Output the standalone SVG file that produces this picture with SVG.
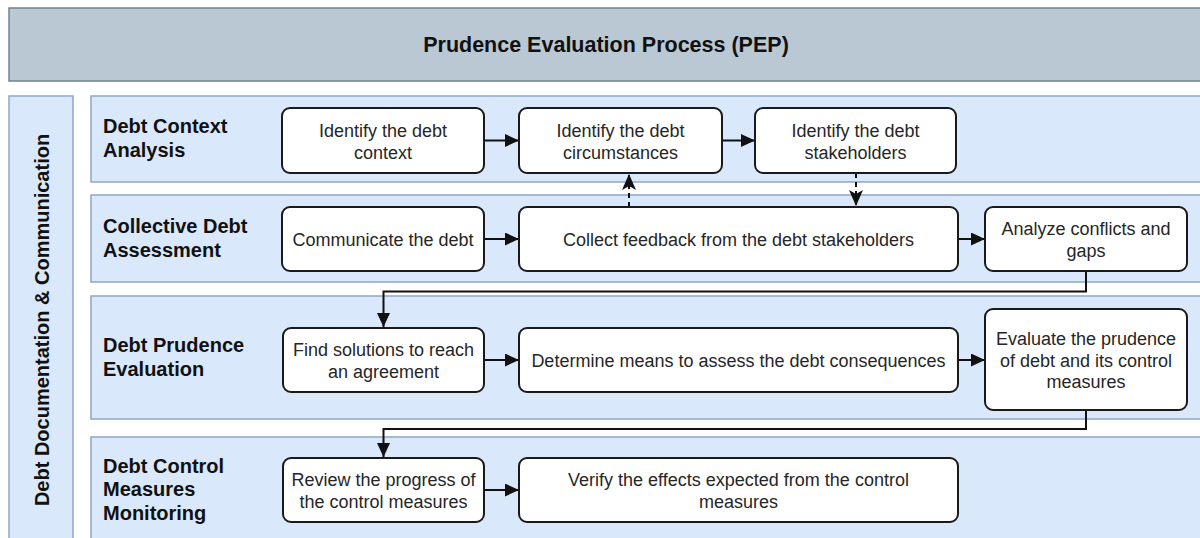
<svg xmlns="http://www.w3.org/2000/svg" width="1200" height="538" viewBox="0 0 1200 538">
  <style>
    .title { font-family: "Liberation Sans", Arial, sans-serif; font-weight: bold; font-size: 21.5px; fill: #111; text-anchor: middle; }
    .lane { fill: #dae8fc; stroke: #8ea7c8; stroke-width: 1.5; }
    .lanelabel { font-family: "Liberation Sans", Arial, sans-serif; font-weight: bold; font-size: 20px; fill: #111; }
    .node rect { fill: #ffffff; stroke: #1a1a1a; stroke-width: 2; }
    .node text { font-family: "Liberation Sans", Arial, sans-serif; font-size: 18px; fill: #262626; text-anchor: middle; }
    .edge { fill: none; stroke: #111; stroke-width: 2; }
    .dashed { stroke-dasharray: 5 4; }
  </style>
  <defs>
    <marker id="block" viewBox="0 0 14 13" refX="14" refY="6.5" markerWidth="14" markerHeight="13" markerUnits="userSpaceOnUse" orient="auto">
      <path d="M0,0 L14,6.5 L0,13 Z" fill="#111"/>
    </marker>
    <marker id="classic" viewBox="0 0 16 14" refX="16" refY="7" markerWidth="16" markerHeight="14" markerUnits="userSpaceOnUse" orient="auto">
      <path d="M0,0 L16,7 L0,14 L4,7 Z" fill="#111"/>
    </marker>
  </defs>

  <rect width="1200" height="538" fill="#ffffff"/>

  <!-- Title bar -->
  <g id="title">
    <rect x="9" y="8" width="1200" height="73" fill="#bac8d3" stroke="#6f8292" stroke-width="1.5"/>
    <text class="title" x="606" y="52">Prudence Evaluation Process (PEP)</text>
  </g>

  <!-- Cross-cutting documentation lane -->
  <g id="lane-documentation">
    <rect class="lane" x="9" y="96" width="64" height="460"/>
    <text class="lanelabel" transform="translate(49,320) rotate(-90)" text-anchor="middle">Debt Documentation &amp; Communication</text>
  </g>

  <!-- Phase lanes -->
  <g id="lane-context">
    <rect class="lane" x="91" y="96" width="1120" height="86"/>
    <text class="lanelabel" x="103" y="132.5">Debt Context</text>
    <text class="lanelabel" x="103" y="156.5">Analysis</text>
  </g>
  <g id="lane-assessment">
    <rect class="lane" x="91" y="195" width="1120" height="87"/>
    <text class="lanelabel" x="103" y="232.5">Collective Debt</text>
    <text class="lanelabel" x="103" y="256.5">Assessment</text>
  </g>
  <g id="lane-evaluation">
    <rect class="lane" x="91" y="296" width="1120" height="123"/>
    <text class="lanelabel" x="103" y="351.5">Debt Prudence</text>
    <text class="lanelabel" x="103" y="375.5">Evaluation</text>
  </g>
  <g id="lane-monitoring">
    <rect class="lane" x="91" y="437" width="1120" height="120"/>
    <text class="lanelabel" x="103" y="472.5">Debt Control</text>
    <text class="lanelabel" x="103" y="496">Measures</text>
    <text class="lanelabel" x="103" y="519.5">Monitoring</text>
  </g>

  <!-- Connectors -->
  <g id="connectors">
    <path class="edge" d="M484,140.5 H519" marker-end="url(#block)"/>
    <path class="edge" d="M722,140.5 H755" marker-end="url(#block)"/>
    <path class="edge" d="M484,239 H519" marker-end="url(#block)"/>
    <path class="edge" d="M958,239 H985" marker-end="url(#block)"/>
    <path class="edge dashed" d="M629,207 V174" marker-end="url(#classic)"/>
    <path class="edge dashed" d="M856,173 V206" marker-end="url(#classic)"/>
    <path class="edge" d="M1086,271 V291.5 H383.5 V327" marker-end="url(#block)"/>
    <path class="edge" d="M484,360 H519" marker-end="url(#block)"/>
    <path class="edge" d="M958,360 H985" marker-end="url(#block)"/>
    <path class="edge" d="M1086,410 V429 H383.5 V457" marker-end="url(#block)"/>
    <path class="edge" d="M484,490 H519" marker-end="url(#block)"/>
  </g>

  <!-- Activities -->
  <g id="identify-context" class="node">
    <rect x="282" y="108" width="202" height="65" rx="8"/>
    <text x="383" y="137">Identify the debt</text>
    <text x="383" y="158.5">context</text>
  </g>
  <g id="identify-circumstances" class="node">
    <rect x="519" y="108" width="203" height="65" rx="8"/>
    <text x="620.5" y="137">Identify the debt</text>
    <text x="620.5" y="158.5">circumstances</text>
  </g>
  <g id="identify-stakeholders" class="node">
    <rect x="755" y="108" width="201" height="65" rx="8"/>
    <text x="855.5" y="137">Identify the debt</text>
    <text x="855.5" y="158.5">stakeholders</text>
  </g>
  <g id="communicate" class="node">
    <rect x="282" y="207" width="202" height="64" rx="8"/>
    <text x="383" y="246">Communicate the debt</text>
  </g>
  <g id="collect-feedback" class="node">
    <rect x="519" y="207" width="439" height="64" rx="8"/>
    <text x="738.5" y="246">Collect feedback from the debt stakeholders</text>
  </g>
  <g id="analyze-conflicts" class="node">
    <rect x="985" y="207" width="202" height="64" rx="8"/>
    <text x="1086" y="235">Analyze conflicts and</text>
    <text x="1086" y="256.5">gaps</text>
  </g>
  <g id="find-solutions" class="node">
    <rect x="283" y="328" width="201" height="64" rx="8"/>
    <text x="383.5" y="356">Find solutions to reach</text>
    <text x="383.5" y="377.5">an agreement</text>
  </g>
  <g id="determine-means" class="node">
    <rect x="519" y="328" width="439" height="64" rx="8"/>
    <text x="738.5" y="367">Determine means to assess the debt consequences</text>
  </g>
  <g id="evaluate-prudence" class="node">
    <rect x="985" y="309" width="202" height="101" rx="8"/>
    <text x="1086" y="345">Evaluate the prudence</text>
    <text x="1086" y="366.5">of debt and its control</text>
    <text x="1086" y="388">measures</text>
  </g>
  <g id="review-progress" class="node">
    <rect x="283" y="458" width="201" height="64" rx="8"/>
    <text x="383.5" y="486">Review the progress of</text>
    <text x="383.5" y="507.5">the control measures</text>
  </g>
  <g id="verify-effects" class="node">
    <rect x="519" y="458" width="439" height="64" rx="8"/>
    <text x="738.5" y="486">Verify the effects expected from the control</text>
    <text x="738.5" y="507.5">measures</text>
  </g>
</svg>
